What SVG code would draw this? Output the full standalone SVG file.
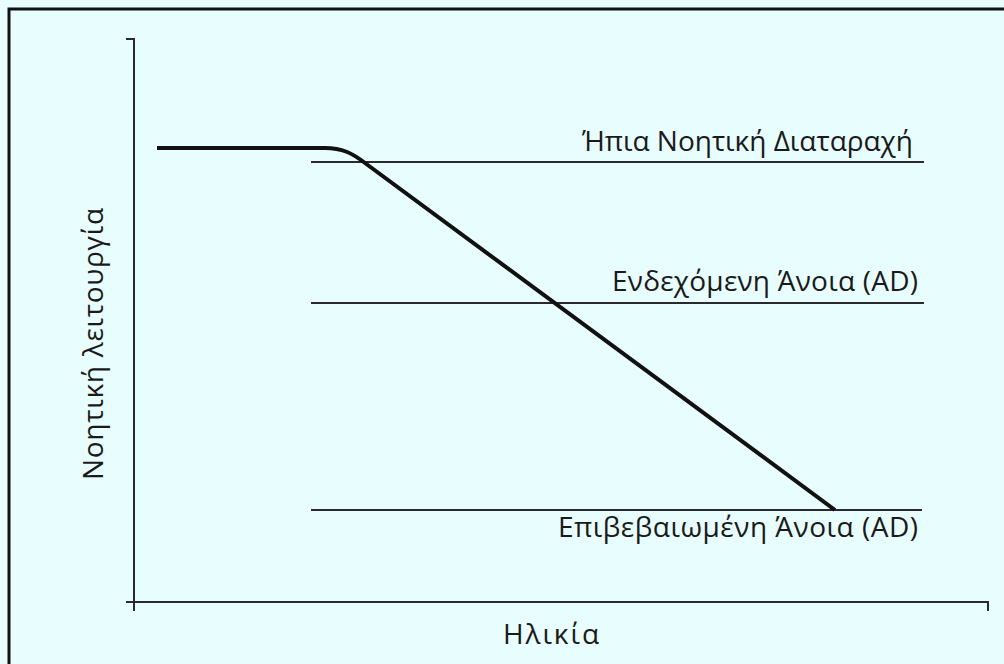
<svg xmlns="http://www.w3.org/2000/svg" width="1004" height="664" viewBox="0 0 1004 664">
<style>
.ax{stroke:#2a2a2a;stroke-width:2;fill:none}
.lvl{stroke:#2a2a2a;stroke-width:2;fill:none}
.curve{stroke:#111;stroke-width:4;fill:none;stroke-linejoin:round}
text{font-family:"Open Sans","DejaVu Sans",sans-serif;font-size:28px;fill:#1a1a1a}
</style>
<rect x="0" y="0" width="1004" height="664" fill="#e8fdfd"/>
<path d="M9,664 V9 H1004" stroke="#111" stroke-width="3" fill="none"/>
<g id="axes">
<path class="ax" d="M126,39 H134 V611"/>
<path class="ax" d="M126,602 H988 V611"/>
</g>
<g id="connectors">
<line class="lvl" x1="311" y1="162" x2="924" y2="162"/>
<line class="lvl" x1="311" y1="303" x2="924" y2="303"/>
<line class="lvl" x1="311" y1="510" x2="922" y2="510"/>
<path class="curve" d="M157,148 H325 C342,148 352,153 365,163 L835,510"/>
</g>
<g id="mci"><text x="913" y="151" text-anchor="end" textLength="331">Ήπια Νοητική Διαταραχή</text></g>
<g id="possible"><text x="918" y="291" text-anchor="end" textLength="306">Ενδεχόμενη Άνοια (AD)</text></g>
<g id="confirmed"><text x="918" y="537" text-anchor="end" textLength="360">Επιβεβαιωμένη Άνοια (AD)</text></g>
<g id="xlabel"><text x="551" y="644" text-anchor="middle" textLength="96">Ηλικία</text></g>
<g id="ylabel"><text transform="translate(103,344) rotate(-90)" text-anchor="middle" textLength="272">Νοητική λειτουργία</text></g>
</svg>
